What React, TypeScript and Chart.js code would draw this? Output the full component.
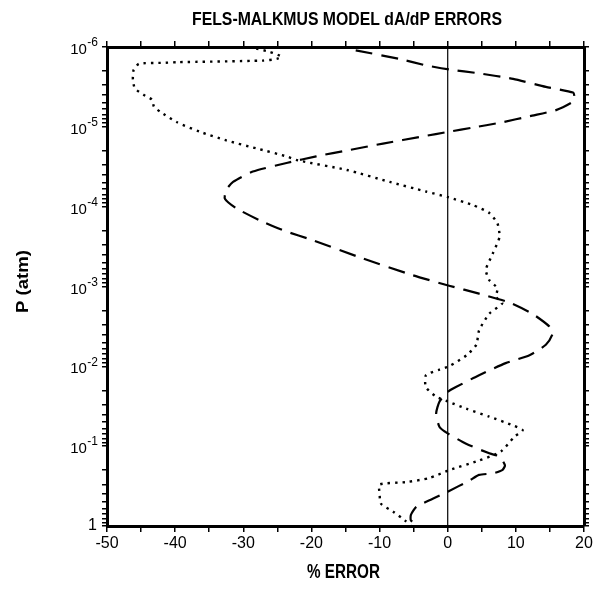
import React, { useEffect, useRef } from "react";
import { Chart, registerables } from "chart.js";

Chart.register(...registerables);

const titleText = "FELS-MALKMUS MODEL dA/dP ERRORS";
const xTitleText = "% ERROR";
const yTitleText = "P (atm)";

const xMin = -50;
const xMax = 20;
const xStep = 5;
const xLabelStep = 10;
const yExponents = [-6, -5, -4, -3, -2, -1, 0];
const yMin = 1e-6;
const yMax = 1;

// dotted curve: % error vs pressure (atm)
const dottedX = [
  -28.1, -26.1, -24.4, -25.1, -27.1, -39.8, -41.8, -45.3, -46.1, -46.2,
  -45.9, -44.6, -43.4, -43.1, -42.2, -39.8, -36.4, -32.5, -28.1, -23.7,
  -22.0, -14.8, -8.5, -3.2, 0.0, 3.7, 6.1, 7.3, 7.6, 6.6,
  5.6, 6.1, 7.3, 7.1, 8.0, 6.1, 4.6, 4.2, 2.8, 0.2,
  -1.2, -3.2, -3.2, -1.7, 0.0, 2.7, 6.1, 9.6, 11.0, 9.8,
  7.8, 4.6, 0.2, -2.7, -6.1, -10.0, -10.0, -9.8, -8.0, -6.3,
  -5.4,
];
const dottedP = [
  1.05e-6, 1.15e-6, 1.32e-6, 1.41e-6, 1.48e-6, 1.55e-6, 1.58e-6, 1.62e-6, 1.95e-6, 2.57e-6,
  3.31e-6, 3.98e-6, 4.57e-6, 5.62e-6, 6.46e-6, 8.71e-6, 1.15e-5, 1.48e-5, 1.86e-5, 2.34e-5,
  2.63e-5, 3.47e-5, 4.9e-5, 6.46e-5, 7.59e-5, 9.55e-5, 1.2e-4, 1.62e-4, 2.4e-4, 3.89e-4,
  6.17e-4, 8.32e-4, 1.05e-3, 1.35e-3, 1.62e-3, 2.19e-3, 3.55e-3, 5.37e-3, 7.24e-3, 1.0e-2,
  1.1e-2, 1.29e-2, 1.82e-2, 2.4e-2, 2.75e-2, 3.39e-2, 4.27e-2, 5.5e-2, 6.31e-2, 7.59e-2,
  0.117, 0.151, 0.2, 0.251, 0.282, 0.302, 0.389, 0.525, 0.661, 0.851,
  1.0,
];

// dashed curve
const dashedX = [
  -13.5, -7.1, -3.2, 0.2, 4.6, 9.6, 14.4, 18.4, 18.6, 18.3,
  15.9, 12.4, 7.6, 3.7, 0.2, -3.7, -9.5, -14.4, -19.3, -23.5,
  -28.6, -31.5, -32.5, -32.7, -31.0, -27.6, -24.0, -19.8, -12.4, -5.1,
  0.2, 4.6, 9.0, 12.4, 14.9, 15.4, 14.4, 12.0, 8.5, 4.6,
  1.2, 0.0, -1.2, -1.7, -1.2, 0.0, 2.7, 6.1, 7.6, 8.4,
  8.0, 6.6, 4.6, 3.2, 0.0, -2.2, -4.6, -5.4, -5.4, -4.4,
];
const dashedP = [
  1.1e-6, 1.41e-6, 1.7e-6, 1.91e-6, 2.14e-6, 2.51e-6, 3.16e-6, 3.72e-6, 4.27e-6, 4.9e-6,
  6.17e-6, 7.24e-6, 8.91e-6, 1.02e-5, 1.15e-5, 1.32e-5, 1.62e-5, 1.95e-5, 2.34e-5, 2.82e-5,
  3.63e-5, 4.9e-5, 6.17e-5, 7.94e-5, 1.05e-4, 1.48e-4, 2.0e-4, 2.63e-4, 4.47e-4, 7.24e-4,
  9.77e-4, 1.23e-3, 1.58e-3, 2.19e-3, 3.16e-3, 3.89e-3, 5.37e-3, 7.24e-3, 9.12e-3, 1.29e-2,
  1.82e-2, 2.09e-2, 2.75e-2, 3.89e-2, 5.75e-2, 6.92e-2, 9.33e-2, 0.123, 0.135, 0.174,
  0.2, 0.219, 0.229, 0.269, 0.372, 0.457, 0.575, 0.724, 0.851, 0.977,
];

// zero reference line
const zeroLineX = [0, 0];
const zeroLineP = [1e-6, 1];

const FONT_NARROW = "'Liberation Sans Narrow', 'Liberation Sans', Arial, sans-serif";
const FONT_NUM = "'Liberation Sans', Arial, sans-serif";

function toPoints(xs: number[], ps: number[]) {
  return xs.map((x, i) => ({ x, y: ps[i] }));
}

function logTicks() {
  const out: { value: number; major?: boolean }[] = [];
  for (let k = 0; k < yExponents.length; k++) {
    const e = yExponents[k];
    const base = Math.pow(10, e);
    out.push({ value: base, major: true });
    if (k < yExponents.length - 1) {
      for (let m = 2; m <= 9; m++) out.push({ value: m * base });
    }
  }
  return out;
}

function drawFitted(ctx: CanvasRenderingContext2D, text: string, cx: number, cy: number, width: number, font: string) {
  ctx.save();
  ctx.font = font;
  const w = ctx.measureText(text).width;
  const sx = width / w;
  ctx.translate(cx, cy);
  ctx.scale(sx, 1);
  ctx.textAlign = "center";
  ctx.textBaseline = "alphabetic";
  ctx.fillText(text, 0, 0);
  ctx.restore();
}

const textPlugin = {
  id: "textPlugin",
  afterDraw(chart: any) {
    const ctx: CanvasRenderingContext2D = chart.ctx;
    const area = chart.chartArea;
    ctx.save();
    ctx.fillStyle = "#000";
    drawFitted(ctx, titleText, 347, 25, 310, "bold 18px " + FONT_NARROW);
    drawFitted(ctx, xTitleText, 343.5, 578, 73, "bold 20px " + FONT_NARROW);

    // y title rotated
    ctx.save();
    ctx.font = "bold 17px " + FONT_NARROW;
    const w = ctx.measureText(yTitleText).width;
    ctx.translate(28, 281.5);
    ctx.rotate(-Math.PI / 2);
    ctx.scale(63 / w, 1);
    ctx.textAlign = "center";
    ctx.textBaseline = "alphabetic";
    ctx.fillText(yTitleText, 0, 0);
    ctx.restore();

    // y tick labels with superscript exponents
    const ys = chart.scales.y;
    const rightEdge = 98;
    for (const e of yExponents) {
      const py = ys.getPixelForValue(Math.pow(10, e));
      if (e === 0) {
        ctx.font = "16px " + FONT_NUM;
        ctx.textAlign = "right";
        ctx.textBaseline = "middle";
        ctx.fillText("1", rightEdge - 1, py);
      } else {
        const exp = String(e);
        ctx.font = "12px " + FONT_NUM;
        const ew = ctx.measureText(exp).width;
        ctx.textAlign = "right";
        ctx.textBaseline = "middle";
        ctx.fillText(exp, rightEdge, py - 4);
        ctx.font = "15px " + FONT_NUM;
        ctx.fillText("10", rightEdge - ew - 0.5, py + 3);
      }
    }
    ctx.restore();
  },
};

export default function App() {
  const canvasRef = useRef<HTMLCanvasElement | null>(null);

  useEffect(() => {
    document.body.style.margin = "0";
    const canvas = canvasRef.current;
    if (!canvas) return;

    const xAxisCommon = {
      type: "linear" as const,
      min: xMin,
      max: xMax,
      grid: {
        drawOnChartArea: false,
        drawTicks: true,
        tickLength: 6,
        color: "#000",
        lineWidth: 1.5,
      },
      border: { display: true, color: "#000", width: 3 },
    };

    const yAxisCommon = {
      type: "logarithmic" as const,
      min: yMin,
      max: yMax,
      reverse: true,
      afterBuildTicks: (s: any) => {
        s.ticks = logTicks();
      },
      grid: {
        drawOnChartArea: false,
        drawTicks: true,
        tickLength: 5,
        color: "#000",
        lineWidth: 1.5,
      },
      border: { display: true, color: "#000", width: 3 },
    };

    const chart = new Chart(canvas, {
      type: "line",
      data: {
        datasets: [
          {
            label: "zero",
            data: toPoints(zeroLineX, zeroLineP),
            borderColor: "#000",
            borderWidth: 1.2,
            pointRadius: 0,
            tension: 0,
          },
          {
            label: "dotted",
            data: toPoints(dottedX, dottedP),
            borderColor: "#000",
            borderWidth: 2.4,
            borderDash: [2.4, 5],
            pointRadius: 0,
            tension: 0.2,
          },
          {
            label: "dashed",
            data: toPoints(dashedX, dashedP),
            borderColor: "#000",
            borderWidth: 2.2,
            borderDash: [17, 9],
            pointRadius: 0,
            tension: 0.2,
          },
        ],
      },
      options: {
        animation: false,
        responsive: true,
        maintainAspectRatio: false,
        devicePixelRatio: 1,
        layout: { padding: 0 },
        plugins: {
          legend: { display: false },
          title: { display: false },
          tooltip: { enabled: false },
        },
        scales: {
          x: {
            ...xAxisCommon,
            position: "bottom",
            afterFit: (s: any) => {
              s.height = 66;
            },
            ticks: {
              stepSize: xStep,
              autoSkip: false,
              maxRotation: 0,
              padding: 2,
              color: "#000",
              font: { family: FONT_NUM, size: 16 },
              callback: (v: any) => (Number(v) % xLabelStep === 0 ? String(v) : ""),
            },
          },
          x2: {
            ...xAxisCommon,
            position: "top",
            afterFit: (s: any) => {
              s.height = 47;
            },
            ticks: { stepSize: xStep, autoSkip: false, display: false },
          },
          y: {
            ...yAxisCommon,
            position: "left",
            afterFit: (s: any) => {
              s.width = 107;
            },
            ticks: { display: false, autoSkip: false },
          },
          y2: {
            ...yAxisCommon,
            position: "right",
            afterFit: (s: any) => {
              s.width = 13;
            },
            ticks: { display: false, autoSkip: false },
          },
        },
      } as any,
      plugins: [textPlugin],
    });

    return () => {
      chart.destroy();
    };
  }, []);

  return (
    <div style={{ width: 597, height: 592, position: "relative" }}>
      <canvas ref={canvasRef} />
    </div>
  );
}
